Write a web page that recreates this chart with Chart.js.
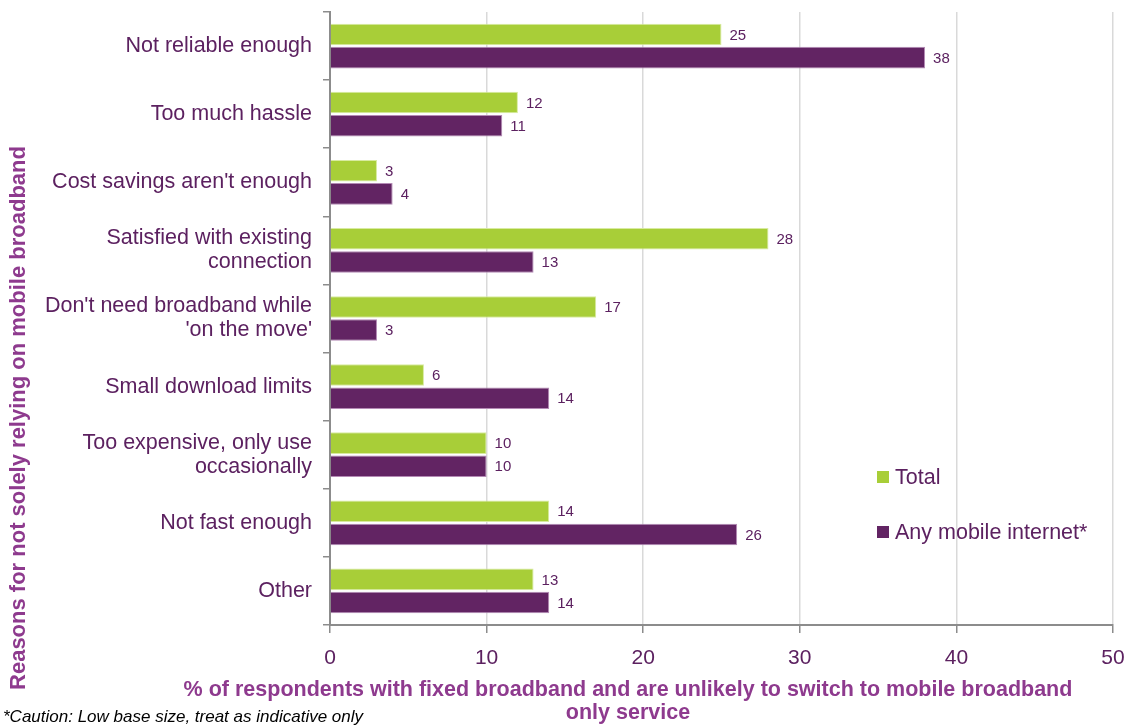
<!DOCTYPE html>
<html>
<head>
<meta charset="utf-8">
<script src="https://cdn.jsdelivr.net/npm/chart.js@4.4.1/dist/chart.umd.min.js"></script>
<style>
    html, body { margin: 0; padding: 0; background: #fff; }
    #wrap { width: 1129px; height: 727px; }
</style>
</head>
<body>
<div id="wrap"><canvas id="reasons-chart"></canvas></div>
<script>
// categories (top to bottom)
const categories = [
    'Not reliable enough',
    'Too much hassle',
    "Cost savings aren't enough",
    ['Satisfied with existing', 'connection'],
    ["Don't need broadband while", "'on the move'"],
    'Small download limits',
    ['Too expensive, only use', 'occasionally'],
    'Not fast enough',
    'Other'
];
const totalValues = [25, 12, 3, 28, 17, 6, 10, 14, 13];
const mobileValues = [38, 11, 4, 13, 3, 14, 10, 26, 14];
const seriesNames = ['Total', 'Any mobile internet*'];
const xTicks = [0, 10, 20, 30, 40, 50];

const GREEN = '#A8CE38';
const PURPLE = '#622463';
const TEXT_PURPLE = '#5C2160';
const TITLE_PURPLE = '#8E3A8E';
const FONT = 'Arial, "Liberation Sans", sans-serif';

// value labels right of bars
const valueLabels = {
    id: 'valueLabels',
    afterDatasetsDraw(chart) {
        const ctx = chart.ctx;
        ctx.save();
        ctx.font = '15px ' + FONT;
        ctx.fillStyle = TEXT_PURPLE;
        ctx.textAlign = 'left';
        ctx.textBaseline = 'middle';
        chart.data.datasets.forEach((ds, i) => {
            chart.getDatasetMeta(i).data.forEach((bar, j) => {
                ctx.fillText(ds.data[j], bar.x + 8, bar.y + 1);
            });
        });
        ctx.restore();
    }
};

// legend inside plot, axis titles, footnote
const extras = {
    id: 'extras',
    afterDraw(chart) {
        const ctx = chart.ctx;
        ctx.save();

        // legend
        const colors = [GREEN, PURPLE];
        const legendY = [478, 533];
        ctx.font = '21.5px ' + FONT;
        ctx.textBaseline = 'middle';
        ctx.textAlign = 'left';
        seriesNames.forEach((name, i) => {
            ctx.fillStyle = colors[i];
            ctx.fillRect(877, legendY[i] - 7, 12, 12);
            ctx.fillStyle = TEXT_PURPLE;
            ctx.fillText(name, 895, legendY[i]);
        });

        // x axis title
        ctx.font = 'bold 21.5px ' + FONT;
        ctx.fillStyle = TITLE_PURPLE;
        ctx.textAlign = 'center';
        ctx.fillText('% of respondents with fixed broadband and are unlikely to switch to mobile broadband', 628, 690);
        ctx.fillText('only service', 628, 713);

        // y axis title
        ctx.font = 'bold 22px ' + FONT;
        ctx.translate(19, 418);
        ctx.rotate(-Math.PI / 2);
        ctx.fillText('Reasons for not solely relying on mobile broadband', 0, 0);
        ctx.setTransform(1, 0, 0, 1, 0, 0);

        // footnote
        ctx.font = 'italic 17px ' + FONT;
        ctx.fillStyle = '#000';
        ctx.textAlign = 'left';
        ctx.fillText('*Caution: Low base size, treat as indicative only', 3, 717);

        ctx.restore();
    }
};

new Chart(document.getElementById('reasons-chart'), {
    type: 'bar',
    data: {
        labels: categories,
        datasets: [
            {
                label: seriesNames[0],
                data: totalValues,
                backgroundColor: GREEN,
                borderColor: '#D8EBA0',
                borderWidth: 1,
                categoryPercentage: 0.68,
                barPercentage: 0.93
            },
            {
                label: seriesNames[1],
                data: mobileValues,
                backgroundColor: PURPLE,
                borderColor: '#B48AB5',
                borderWidth: 1,
                categoryPercentage: 0.68,
                barPercentage: 0.93
            }
        ]
    },
    options: {
        indexAxis: 'y',
        responsive: true,
        maintainAspectRatio: false,
        animation: false,
        layout: {
            padding: { left: 0, right: 16, top: 12, bottom: 0 }
        },
        plugins: {
            legend: { display: false },
            tooltip: { enabled: false },
            title: { display: false }
        },
        scales: {
            x: {
                min: 0,
                max: 50,
                afterBuildTicks: (scale) => {
                    scale.ticks = xTicks.map(v => ({ value: v }));
                },
                afterFit: (scale) => {
                    scale.height = 102;
                    scale.paddingLeft = 0;
                    scale.paddingRight = 0;
                },
                grid: {
                    color: '#D9D9D9',
                    lineWidth: 1.5,
                    tickColor: '#8C8C8C',
                    tickLength: 8
                },
                border: { color: '#8C8C8C', width: 2 },
                ticks: {
                    color: TEXT_PURPLE,
                    padding: 13,
                    font: { size: 21, family: FONT }
                }
            },
            y: {
                afterFit: (scale) => {
                    scale.width = 330;
                    scale.paddingTop = 0;
                    scale.paddingBottom = 0;
                },
                grid: {
                    offset: true,
                    drawOnChartArea: false,
                    tickColor: '#8C8C8C',
                    tickLength: 7,
                    lineWidth: 1.5
                },
                border: { color: '#8C8C8C', width: 2 },
                ticks: {
                    color: TEXT_PURPLE,
                    padding: 11,
                    font: { size: 21.5, family: FONT, lineHeight: 1.12 }
                }
            }
        }
    },
    plugins: [valueLabels, extras]
});
</script>
</body>
</html>
